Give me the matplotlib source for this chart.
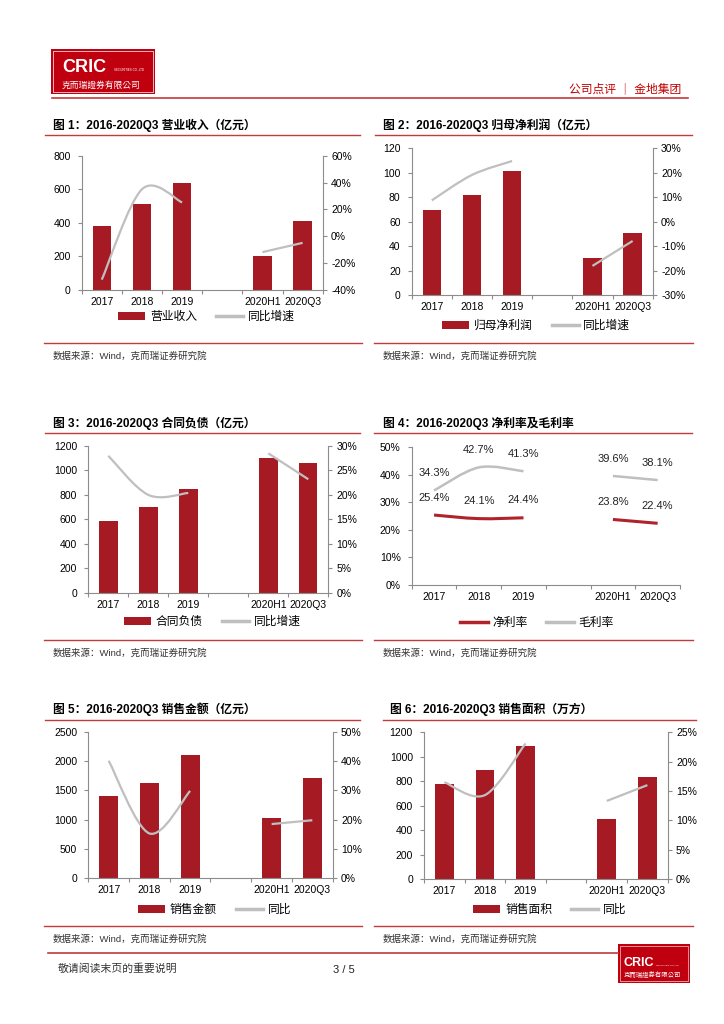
import matplotlib
matplotlib.use('Agg')
import matplotlib.pyplot as plt
from matplotlib.path import Path
from matplotlib.patches import PathPatch, Rectangle, Patch
from matplotlib.lines import Line2D

# 数字用 Liberation Sans，中文回落到 Noto Sans CJK
plt.rcParams['font.family'] = ['Liberation Sans', 'Noto Sans CJK SC', 'DejaVu Sans']
plt.rcParams['axes.unicode_minus'] = False

W, H = 724, 1024

BAR_RED = '#A61B23'
LINE_GRAY = '#BFBFBF'
NET_RED = '#B0232A'
RULE_RED = '#C43A3A'
LOGO_RED = '#C0000F'
SPINE = '#8C8C8C'

# ---- 数据 ----
categories = ['2017', '2018', '2019', '', '2020H1', '2020Q3']
bar_idx = [0, 1, 2, 4, 5]          # 第 4 个位置留空

revenue = [380, 511, 637, 203, 410]
revenue_yoy = [-32.3, 35.0, 25.2, -11.8, -4.9]

net_profit = [69.4, 82.1, 101.8, 30.2, 50.6]
net_profit_yoy = [8.7, 19.1, 24.8, -18.1, -7.9]

contract_liab = [586, 703, 848, 1098, 1063]
contract_liab_yoy = [28.0, 20.0, 20.4, 28.5, 23.2]

net_margin = [25.4, 24.1, 24.4, 23.8, 22.4]
gross_margin = [34.3, 42.7, 41.3, 39.6, 38.1]

sales_amount = [1410, 1626, 2110, 1020, 1710]
sales_amount_yoy = [40.1, 15.3, 29.8, 18.5, 19.8]

sales_area = [774, 888, 1090, 493, 833]
sales_area_yoy = [16.5, 14.3, 23.1, 13.3, 16.0]

source_text = '数据来源：Wind，克而瑞证券研究院'

fig = plt.figure(figsize=(W / 100, H / 100), dpi=100)
fig.patch.set_facecolor('white')


def fx(x):
    return x / W


def fy(y):
    return 1 - y / H


def px_axes(x0, y0, x1, y1):
    return fig.add_axes([fx(x0), fy(y1), (x1 - x0) / W, (y1 - y0) / H])


def hline(x0, x1, y, color=RULE_RED, lw=1.0):
    fig.add_artist(Line2D([fx(x0), fx(x1)], [fy(y), fy(y)], color=color, lw=lw))


def smooth_path(xs, ys):
    # Excel 式平滑线：Catmull-Rom 转三次贝塞尔
    verts = [(xs[0], ys[0])]
    codes = [Path.MOVETO]
    n = len(xs)
    for i in range(n - 1):
        a, b = max(i - 1, 0), min(i + 2, n - 1)
        c1 = (xs[i] + (xs[i + 1] - xs[a]) / 6, ys[i] + (ys[i + 1] - ys[a]) / 6)
        c2 = (xs[i + 1] - (xs[b] - xs[i]) / 6, ys[i + 1] - (ys[b] - ys[i]) / 6)
        verts += [c1, c2, (xs[i + 1], ys[i + 1])]
        codes += [Path.CURVE4] * 3
    return Path(verts, codes)


def draw_series(ax, values, color, lw):
    for seg in ([0, 1, 2], [3, 4]):
        xs = [bar_idx[i] for i in seg]
        ys = [values[i] for i in seg]
        ax.add_patch(PathPatch(smooth_path(xs, ys), fill=False, ec=color,
                               lw=lw, capstyle='butt', zorder=3))


def style_x(ax):
    ax.set_xlim(-0.5, 5.5)
    ax.set_xticks(range(len(categories)))
    ax.set_xticklabels(categories)
    ax.set_xticks([i - 0.5 for i in range(len(categories) + 1)], minor=True)
    ax.tick_params(axis='x', which='major', length=0, pad=5, labelsize=7.5)
    ax.tick_params(axis='x', which='minor', length=3, width=0.8, color=SPINE, direction='out')
    ax.spines['top'].set_visible(False)
    ax.spines['right'].set_visible(False)
    for s in ('left', 'bottom'):
        ax.spines[s].set_color(SPINE)
        ax.spines[s].set_linewidth(0.8)
    ax.tick_params(axis='y', length=3, width=0.8, color=SPINE, pad=5, labelsize=7.5)


def title_block(x, y, text, x0, x1, rule_y):
    fig.text(fx(x), fy(y), text, fontsize=8.5, fontweight='bold', va='center', ha='left')
    hline(x0, x1, rule_y, lw=1.0)


def bar_line_chart(box, bars, yoy, ylim, yticks, rlim, rticks, labels, legend_y):
    ax = px_axes(*box)
    ax.bar(bar_idx, bars, width=0.46, color=BAR_RED, zorder=2)
    ax.set_ylim(*ylim)
    ax.set_yticks(yticks)
    style_x(ax)
    axr = ax.twinx()
    axr.set_xlim(-0.5, 5.5)
    draw_series(axr, yoy, LINE_GRAY, 1.6)
    axr.set_ylim(*rlim)
    axr.set_yticks(rticks)
    axr.set_yticklabels([f'{t}%' for t in rticks])
    for s in ('top', 'left', 'bottom'):
        axr.spines[s].set_visible(False)
    axr.spines['right'].set_color(SPINE)
    axr.spines['right'].set_linewidth(0.8)
    axr.tick_params(axis='y', length=3, width=0.8, color=SPINE, pad=3, labelsize=7.5)
    handles = [Patch(fc=BAR_RED, ec='none'), Line2D([], [], color=LINE_GRAY, lw=2.5)]
    cx = (box[0] + box[2]) / 2
    fig.legend(handles, labels, loc='center', bbox_to_anchor=(fx(cx + 4), fy(legend_y)),
               ncol=2, frameon=False, fontsize=8.5, handlelength=2.3,
               handletextpad=0.4, columnspacing=1.6, borderpad=0)
    return ax


# ---- 页眉 ----
fig.add_artist(Rectangle((fx(51), fy(94)), 104 / W, 45 / H, transform=fig.transFigure,
                         fc=LOGO_RED, ec='none'))
fig.add_artist(Rectangle((fx(53), fy(92)), 100 / W, 41 / H, transform=fig.transFigure,
                         fill=False, ec='white', lw=0.5))
fig.text(fx(62), fy(67), 'CRIC', color='white', fontsize=13, fontweight='bold', va='center')
fig.text(fx(114), fy(70), 'SECURITIES CO.,LTD', color='white', fontsize=2.2, va='center')
fig.text(fx(62), fy(85), '克而瑞證券有限公司', color='white', fontsize=6.3, va='center',
         family=['Noto Sans CJK TC', 'DejaVu Sans'])
fig.text(fx(681), fy(89), '公司点评 ｜ 金地集团', color='#C00000', fontsize=8.5,
         ha='right', va='center')
hline(52, 688, 97.5, lw=1.2)

# ---- 图 1 ----
title_block(53, 125, '图 1：2016-2020Q3 营业收入（亿元）', 45, 360, 135)
bar_line_chart((81.7, 155.7, 322.7, 290), revenue, revenue_yoy,
               (0, 800), range(0, 801, 200), (-40, 60), range(-40, 61, 20),
               ['营业收入', '同比增速'], 317)

# ---- 图 2 ----
title_block(383, 125, '图 2：2016-2020Q3 归母净利润（亿元）', 375, 692, 135)
bar_line_chart((411.7, 148.3, 652.7, 295), net_profit, net_profit_yoy,
               (0, 120), range(0, 121, 20), (-30, 30), range(-30, 31, 10),
               ['归母净利润', '同比增速'], 326)

# ---- 图 3 ----
title_block(53, 423, '图 3：2016-2020Q3 合同负债（亿元）', 45, 360, 433)
bar_line_chart((88.3, 446, 328.3, 592.7), contract_liab, contract_liab_yoy,
               (0, 1200), range(0, 1201, 200), (0, 30), range(0, 31, 5),
               ['合同负债', '同比增速'], 622)

# ---- 图 4 ----
title_block(383, 423, '图 4：2016-2020Q3 净利率及毛利率', 374, 692, 433)
ax4 = px_axes(411.7, 447.3, 680, 585)
draw_series(ax4, gross_margin, LINE_GRAY, 1.8)
draw_series(ax4, net_margin, NET_RED, 2.2)
ax4.set_ylim(0, 50)
ax4.set_yticks(range(0, 51, 10))
ax4.set_yticklabels([f'{t}%' for t in range(0, 51, 10)])
style_x(ax4)
for vals in (gross_margin, net_margin):
    for i, v in zip(bar_idx, vals):
        ax4.annotate(f'{v:.1f}%', (i, v), xytext=(0, 12.5), textcoords='offset points',
                     ha='center', va='center', fontsize=8, color='#222222')
fig.legend([Line2D([], [], color=NET_RED, lw=2.5), Line2D([], [], color=LINE_GRAY, lw=2.5)],
           ['净利率', '毛利率'], loc='center', bbox_to_anchor=(fx(537), fy(623)),
           ncol=2, frameon=False, fontsize=8.5, handlelength=2.3,
           handletextpad=0.4, columnspacing=1.6, borderpad=0)

# ---- 图 5 ----
title_block(53, 709, '图 5：2016-2020Q3 销售金额（亿元）', 45, 360, 719.5)
bar_line_chart((88.3, 731.7, 332.7, 878.3), sales_amount, sales_amount_yoy,
               (0, 2500), range(0, 2501, 500), (0, 50), range(0, 51, 10),
               ['销售金额', '同比'], 910)

# ---- 图 6 ----
title_block(390, 709, '图 6：2016-2020Q3 销售面积（万方）', 383, 696, 719.5)
bar_line_chart((424, 732.3, 667.7, 879), sales_area, sales_area_yoy,
               (0, 1200), range(0, 1201, 200), (0, 25), range(0, 26, 5),
               ['销售面积', '同比'], 910)

# ---- 数据来源 ----
for y_rule, y_txt in ((343, 356.5), (639.5, 653), (926, 939.5)):
    hline(44, 362, y_rule, lw=1.0)
    hline(374, 693, y_rule, lw=1.0)
    fig.text(fx(53), fy(y_txt), source_text, fontsize=6.8, va='center', color='#333333')
    fig.text(fx(383), fy(y_txt), source_text, fontsize=6.8, va='center', color='#333333')

# ---- 页脚 ----
hline(48, 618, 952.5, lw=1.2)
fig.text(fx(58), fy(969), '敬请阅读末页的重要说明', fontsize=7.8, va='center', color='#333333')
fig.text(fx(344), fy(970), '3 / 5', fontsize=8, ha='center', va='center', color='#222222')
fig.add_artist(Rectangle((fx(618), fy(983)), 72 / W, 39 / H, transform=fig.transFigure,
                         fc=LOGO_RED, ec='none'))
fig.add_artist(Rectangle((fx(620), fy(981)), 68 / W, 35 / H, transform=fig.transFigure,
                         fill=False, ec='white', lw=0.4))
fig.text(fx(624), fy(962.5), 'CRIC', color='white', fontsize=9, fontweight='bold', va='center')
fig.text(fx(656), fy(965), 'SECURITIES CO.,LTD', color='white', fontsize=1.6, va='center')
fig.text(fx(624), fy(974.5), '克而瑞證券有限公司', color='white', fontsize=4.6, va='center',
         family=['Noto Sans CJK TC', 'DejaVu Sans'])

fig.savefig('out.png', dpi=100)
